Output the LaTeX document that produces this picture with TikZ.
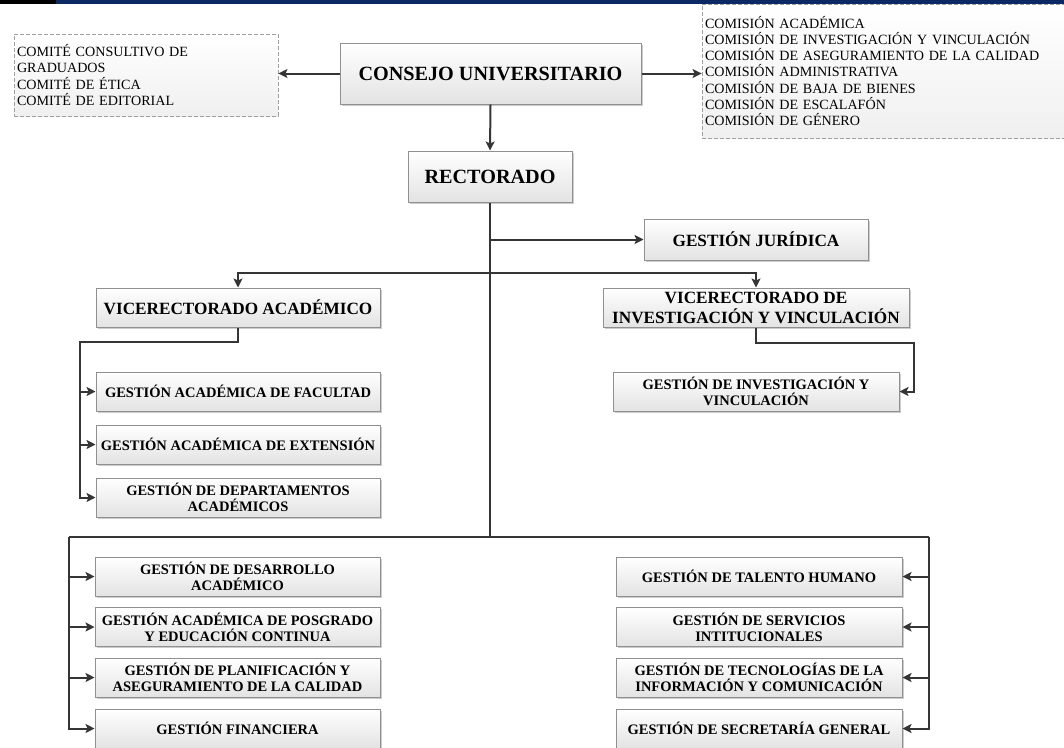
\documentclass[tikz,border=0pt]{standalone}
\usepackage{fontspec}
\setmainfont{Liberation Serif}
\usetikzlibrary{arrows.meta,shadows}
\definecolor{navy}{HTML}{0B2A63}
\definecolor{lineC}{HTML}{353535}
\definecolor{boxB}{HTML}{909090}
\tikzset{
  box/.style={draw=boxB, line width=1pt, top color=white, bottom color=gray!22,
    inner sep=0pt, align=center, font=\bfseries\fontsize{14.5}{16.3}\selectfont,
    drop shadow={shadow xshift=1.5pt, shadow yshift=-1.5pt, opacity=0.2, fill=black}},
  bigbox/.style={box, font=\bfseries\fontsize{20.2}{24}\selectfont},
  midbox/.style={box, font=\bfseries\fontsize{17.2}{20}\selectfont},
  dbox/.style={draw=gray!75, dash pattern=on 4pt off 2pt, line width=0.9pt,
    top color=white, bottom color=gray!12, inner xsep=3pt, inner ysep=0pt, align=left,
    font=\fontsize{14.1}{16.3}\selectfont},
  conn/.style={draw=lineC, line width=2pt, -{Stealth[length=9pt,width=9pt,inset=2pt]}},
  wire/.style={draw=lineC, line width=2pt},
}
\begin{document}
\begin{tikzpicture}[x=1pt,y=-1pt]
\useasboundingbox (0,0) rectangle (1064,747);
\clip (0,0) rectangle (1064,747);
\fill[white] (0,0) rectangle (1064,747);
% top bar
\fill[navy] (0,0) rectangle (1064,4);
\fill[black] (0,0) rectangle (56,4);

% top level
\node[bigbox, minimum width=301pt, minimum height=61pt] (cu) at (490.5,73.5) {CONSEJO UNIVERSITARIO};
\node[bigbox, minimum width=164pt, minimum height=51pt] (rec) at (490,176.5) {RECTORADO};

\node[dbox, minimum width=264pt, minimum height=82pt, text width=258pt] (cc) at (146,75)
  {COMITÉ CONSULTIVO DE\\GRADUADOS\\COMITÉ DE ÉTICA\\COMITÉ DE EDITORIAL};
\node[dbox, minimum width=370pt, minimum height=134pt, text width=364pt] (com) at (887,71)
  {COMISIÓN ACADÉMICA\\COMISIÓN DE INVESTIGACIÓN Y VINCULACIÓN\\COMISIÓN DE ASEGURAMIENTO DE LA CALIDAD\\COMISIÓN ADMINISTRATIVA\\COMISIÓN DE BAJA DE BIENES\\COMISIÓN DE ESCALAFÓN\\COMISIÓN DE GÉNERO};

\node[midbox, minimum width=224pt, minimum height=41pt] (gj) at (756,239.5) {GESTIÓN JURÍDICA};
\node[midbox, minimum width=284pt, minimum height=39pt] (va) at (238,307.5) {VICERECTORADO ACADÉMICO};
\node[midbox, minimum width=306pt, minimum height=39pt] (viv) at (756,307.5) {VICERECTORADO DE\\INVESTIGACIÓN Y VINCULACIÓN};

% academic branch
\node[box, minimum width=284pt, minimum height=39pt] (gaf) at (238,391.5) {GESTIÓN ACADÉMICA DE FACULTAD};
\node[box, minimum width=284pt, minimum height=39pt] (gae) at (238,444.5) {GESTIÓN ACADÉMICA DE EXTENSIÓN};
\node[box, minimum width=284pt, minimum height=39pt] (gda) at (238,497.5) {GESTIÓN DE DEPARTAMENTOS\\ACADÉMICOS};
\node[box, minimum width=286pt, minimum height=39pt] (giv) at (756,391.5) {GESTIÓN DE INVESTIGACIÓN Y\\VINCULACIÓN};

% bottom left
\node[box, minimum width=285pt, minimum height=39pt] (l1) at (237.5,576.5) {GESTIÓN DE DESARROLLO\\ACADÉMICO};
\node[box, minimum width=285pt, minimum height=39pt] (l2) at (237.5,627) {GESTIÓN ACADÉMICA DE POSGRADO\\Y EDUCACIÓN CONTINUA};
\node[box, minimum width=285pt, minimum height=39pt] (l3) at (237.5,677.5) {GESTIÓN DE PLANIFICACIÓN Y\\ASEGURAMIENTO DE LA CALIDAD};
\node[box, minimum width=285pt, minimum height=39pt] (l4) at (237.5,728.5) {GESTIÓN FINANCIERA};
% bottom right
\node[box, minimum width=286pt, minimum height=39pt] (r1) at (759,576.5) {GESTIÓN DE TALENTO HUMANO};
\node[box, minimum width=286pt, minimum height=39pt] (r2) at (759,627) {GESTIÓN DE SERVICIOS\\INTITUCIONALES};
\node[box, minimum width=286pt, minimum height=39pt] (r3) at (759,677.5) {GESTIÓN DE TECNOLOGÍAS DE LA\\INFORMACIÓN Y COMUNICACIÓN};
\node[box, minimum width=286pt, minimum height=39pt] (r4) at (759,728.5) {GESTIÓN DE SECRETARÍA GENERAL};

% connectors
\draw[conn] (cu.south) -- (rec.north);
\draw[conn] (cu.west) -- (cu.west -| cc.east);
\draw[conn] (cu.east) -- (cu.east -| com.west);

\coordinate (tb) at (490,537);
\coordinate (br) at (490,273);
\draw[wire] (rec.south) -- (tb);
\draw[conn] (rec.south |- gj.west) -- (gj.west);
\draw[conn] (br) -| (va.north);
\draw[conn] (br) -| (viv.north);

\coordinate (vaL) at (80,342);
\draw[conn] (va.south) |- (vaL) |- (gaf.west);
\draw[conn] (vaL) |- (gae.west);
\draw[conn] (vaL) |- (gda.west);

\coordinate (vivR) at (914,343);
\draw[conn] (viv.south) |- (vivR) |- (giv.east);

\coordinate (bl) at (69,537);
\coordinate (bR) at (929,537);
\draw[wire] (bl) -- (bR);
\draw[conn] (bl) |- (l1.west);
\draw[conn] (bl) |- (l2.west);
\draw[conn] (bl) |- (l3.west);
\draw[conn] (bl) |- (l4.west);
\draw[conn] (bR) |- (r1.east);
\draw[conn] (bR) |- (r2.east);
\draw[conn] (bR) |- (r3.east);
\draw[conn] (bR) |- (r4.east);
\end{tikzpicture}
\end{document}
